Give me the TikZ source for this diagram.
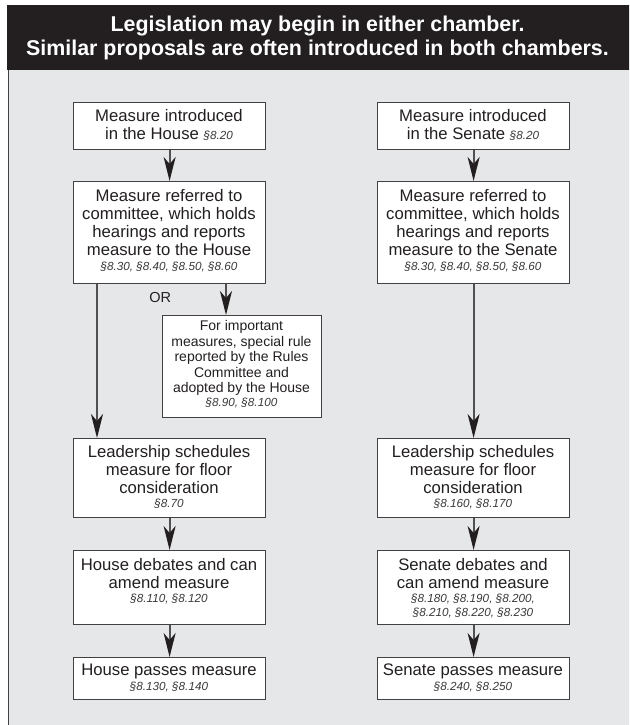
\documentclass[tikz,border=0pt]{standalone}
\usepackage{fontspec}
\setmainfont{Liberation Sans}
\usetikzlibrary{arrows.meta}
\definecolor{band}{HTML}{231F20}
\definecolor{panel}{HTML}{E6E7E8}
\definecolor{boxline}{HTML}{414042}
\definecolor{ink}{HTML}{231F20}
\definecolor{refink}{HTML}{3A3A3C}
\definecolor{arrline}{HTML}{505052}
\newcommand{\mainf}{\fontsize{16.7}{18}\selectfont}
\newcommand{\smallf}{\fontsize{14}{15.5}\selectfont}
\newcommand{\headf}{\fontsize{21.4}{23.4}\selectfont\bfseries}
\newcommand{\rf}[1]{{\fontsize{11.7}{13.5}\selectfont\itshape\color{refink}#1}}
\newcommand{\tb}[1]{\begin{tabular}[t]{@{}c@{}}#1\end{tabular}}
\tikzset{
  stepbox/.style={draw=boxline, line width=1.2pt, fill=white, rectangle, inner sep=0pt, anchor=north west},
  txt/.style={anchor=base, inner sep=0pt, text=ink, font=\mainf},
  arr/.style={draw=arrline, line width=2pt, -{Stealth[length=24pt, width=12pt, inset=7pt, color=ink]}},
}
\begin{document}
\begin{tikzpicture}[x=1pt, y=-1pt]
\useasboundingbox (0,0) rectangle (629,725);
\clip (0,0) rectangle (629,725);
\fill[white] (0,0) rectangle (629,725);
% header band and panel
\fill[band] (7,5) rectangle (640,70);
\fill[panel] (8,70) rectangle (640,740);
\draw[boxline, line width=1pt] (8,70) -- (8,730);
\node[anchor=base, inner sep=0pt, text=white, font=\headf] (head) at (317.5,31.7)
  {\tb{Legislation may begin in either chamber.\\Similar proposals are often introduced in both chambers.}};

% left column boxes
\node[stepbox, minimum width=192pt, minimum height=47pt] (L1) at (73,102) {};
\node[stepbox, minimum width=192pt, minimum height=102pt] (L2) at (73,181) {};
\node[stepbox, minimum width=159pt, minimum height=102pt] (LS) at (162,315) {};
\node[stepbox, minimum width=192pt, minimum height=79pt] (L3) at (73,438) {};
\node[stepbox, minimum width=192pt, minimum height=74pt] (L4) at (73,550) {};
\node[stepbox, minimum width=192pt, minimum height=42pt] (L5) at (73,657) {};
% right column boxes
\node[stepbox, minimum width=192pt, minimum height=47pt] (R1) at (377,102) {};
\node[stepbox, minimum width=192pt, minimum height=102pt] (R2) at (377,181) {};
\node[stepbox, minimum width=192pt, minimum height=79pt] (R3) at (377,438) {};
\node[stepbox, minimum width=192pt, minimum height=74pt] (R4) at (377,550) {};
\node[stepbox, minimum width=192pt, minimum height=42pt] (R5) at (377,657) {};

% texts
\node[txt] (tL1) at (169,121.7) {\tb{Measure introduced\\in the House \rf{§8.20}}};
\node[txt] (tR1) at (473,121.7) {\tb{Measure introduced\\in the Senate \rf{§8.20}}};
\node[txt] (tL2) at (169,201.7) {\tb{Measure referred to\\committee, which holds\\hearings and reports\\measure to the House\\[-3pt]\rf{§8.30, §8.40, §8.50, §8.60}}};
\node[txt] (tR2) at (473,201.7) {\tb{Measure referred to\\committee, which holds\\hearings and reports\\measure to the Senate\\[-3pt]\rf{§8.30, §8.40, §8.50, §8.60}}};
\node[txt, font=\smallf] (tLS) at (241.5,330.7) {\tb{For important\\measures, special rule\\reported by the Rules\\Committee and\\adopted by the House\\[-1.5pt]\rf{§8.90, §8.100}}};
\node[txt] (tL3) at (169,457.3) {\tb{Leadership schedules\\measure for floor\\consideration\\[-3.5pt]\rf{§8.70}}};
\node[txt] (tR3) at (473,457.3) {\tb{Leadership schedules\\measure for floor\\consideration\\[-3.5pt]\rf{§8.160, §8.170}}};
\node[txt] (tL4) at (169,570) {\tb{House debates and can\\amend measure\\[-3.5pt]\rf{§8.110, §8.120}}};
\node[txt] (tR4) at (473,570) {\tb{Senate debates and\\can amend measure\\[-3.5pt]\rf{§8.180, §8.190, §8.200,}\\[-4.3pt]\rf{§8.210, §8.220, §8.230}}};
\node[txt] (tL5) at (169,675) {\tb{House passes measure\\[-3pt]\rf{§8.130, §8.140}}};
\node[txt] (tR5) at (473,675) {\tb{Senate passes measure\\[-3pt]\rf{§8.240, §8.250}}};
\node[txt, font=\fontsize{14.5}{16}\selectfont] (or) at (160.3,302.7) {OR};

% connectors
\coordinate (xa) at (97,0);
\coordinate (xb) at (226,0);
\draw[arr] (L1.south) -- (L2.north);
\draw[arr] (L2.south -| xa) -- (L3.north -| xa);
\draw[arr] (L2.south -| xb) -- (LS.north -| xb);
\draw[arr] (L3.south) -- (L4.north);
\draw[arr] (L4.south) -- (L5.north);
\draw[arr] (R1.south) -- (R2.north);
\draw[arr] (R2.south) -- (R3.north);
\draw[arr] (R3.south) -- (R4.north);
\draw[arr] (R4.south) -- (R5.north);
\end{tikzpicture}
\end{document}
